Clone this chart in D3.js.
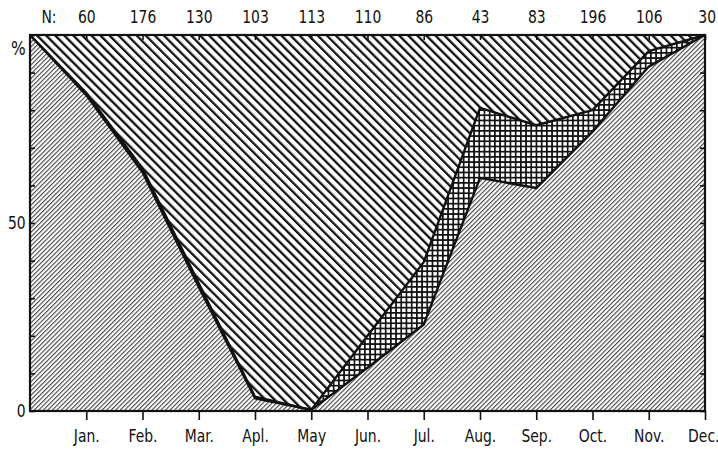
<!DOCTYPE html>
<html>
<head>
<meta charset="utf-8">
<script src="https://cdn.jsdelivr.net/npm/d3@7"></script>
<style>
  body { margin: 0; background: #fff; }
  text { font-family: 'DejaVu Sans Condensed', 'Liberation Sans Narrow', sans-serif; font-stretch: condensed; fill: #111; }
</style>
</head>
<body>
<svg id="chart" width="718" height="450"></svg>
<script>
(function() {

  'use strict';

  // month index 0 = start of Jan (end of previous Dec), 12 = Dec.
  var months = ['Jan.', 'Feb.', 'Mar.', 'Apl.', 'May', 'Jun.', 'Jul.', 'Aug.', 'Sep.', 'Oct.', 'Nov.', 'Dec.'];
  var nCounts = [60, 176, 130, 103, 113, 110, 86, 43, 83, 196, 106, 30];
  var upper = [100, 84.6, 64.5, 34, 3.8, 0.3, 20, 39.6, 80.6, 76, 80, 95.7, 100];
  var lower = [100, 84, 63.5, 33, 3.4, 0.3, 11.5, 23, 62, 59.3, 74.3, 91.6, 100];
  var yTicks = [0, 10, 20, 30, 40, 50, 60, 70, 80, 90, 100];

  var ink = '#111';
  var squeeze = 'scale(0.86,1)';
  var svg = d3.select('#chart');

  var x = d3.scaleLinear().domain([0, 12]).range([30, 705]);
  var y = d3.scaleLinear().domain([0, 100]).range([411, 35]);

  function defineDefs(svg) {
    var defs = svg.append('defs');
    var pats = [
      {id: 'coarse', w: 6.4, h: 10, rot: -45, lines: [{x: 0, y: 0, w: 2.3, h: 10}], color: ink},
      {id: 'fine', w: 3.2, h: 10, rot: 45, lines: [{x: 0, y: 0, w: 1.1, h: 10}], color: '#444'},
      {id: 'grid', w: 5.2, h: 5.2, rot: 0, lines: [{x: 0, y: 0, w: 1.7, h: 5.2}, {x: 0, y: 0, w: 5.2, h: 1.7}], color: ink}
    ];
    pats.forEach(function(p) {
      var pat = defs.append('pattern')
        .attr('id', p.id)
        .attr('patternUnits', 'userSpaceOnUse')
        .attr('width', p.w)
        .attr('height', p.h)
        .attr('patternTransform', 'rotate(' + p.rot + ')');
      pat.append('rect').attr('width', p.w).attr('height', p.h).attr('fill', '#fff');
      p.lines.forEach(function(l) {
        pat.append('rect').attr('x', l.x).attr('y', l.y).attr('width', l.w).attr('height', l.h).attr('fill', p.color);
      });
    });
  }

  defineDefs(svg);

  var idx = d3.range(upper.length);

  // top region: above upper line
  svg.append('path')
    .attr('d', d3.area().x(function(i) { return x(i); }).y0(y(100)).y1(function(i) { return y(upper[i]); })(idx))
    .attr('fill', 'url(#coarse)');

  // middle region: between the two lines
  svg.append('path')
    .attr('d', d3.area().x(function(i) { return x(i); }).y0(function(i) { return y(lower[i]); }).y1(function(i) { return y(upper[i]); })(idx))
    .attr('fill', 'url(#grid)');

  // bottom region
  svg.append('path')
    .attr('d', d3.area().x(function(i) { return x(i); }).y0(y(0)).y1(function(i) { return y(lower[i]); })(idx))
    .attr('fill', 'url(#fine)');

  [upper, lower].forEach(function(s) {
    svg.append('path')
      .attr('d', d3.line().x(function(i) { return x(i); }).y(function(i) { return y(s[i]); })(idx))
      .attr('fill', 'none')
      .attr('stroke', ink)
      .attr('stroke-width', 2.4)
      .attr('stroke-linejoin', 'round');
  });

  // frame
  svg.append('rect')
    .attr('x', x(0)).attr('y', y(100))
    .attr('width', x(12) - x(0)).attr('height', y(0) - y(100))
    .attr('fill', 'none').attr('stroke', ink).attr('stroke-width', 2.2);

  var monthIdx = d3.range(1, 13);

  var bottom = svg.append('g').attr('transform', 'translate(0,' + y(0) + ')')
    .call(d3.axisBottom(x).tickValues(monthIdx).tickSize(9).tickPadding(9)
      .tickFormat(function(d) { return months[d - 1]; }));

  var top = svg.append('g').attr('transform', 'translate(0,' + y(100) + ')')
    .call(d3.axisTop(x).tickValues(monthIdx).tickSize(-5).tickPadding(12)
      .tickFormat(function(d) { return nCounts[d - 1]; }));

  var left = svg.append('g').attr('transform', 'translate(' + x(0) + ',0)')
    .call(d3.axisLeft(y).tickValues(yTicks).tickSize(-5).tickPadding(5)
      .tickFormat(function(d) { return d === 0 ? '0' : d === 50 ? '50' : d === 100 ? '%' : ''; }));

  var right = svg.append('g').attr('transform', 'translate(' + x(12) + ',0)')
    .call(d3.axisRight(y).tickValues(yTicks).tickSize(-5).tickFormat(''));

  [bottom, top, left, right].forEach(function(g) {
    g.select('.domain').remove();
    g.selectAll('line').attr('stroke', ink).attr('stroke-width', 1.6);
    g.selectAll('text').attr('font-size', 18).attr('fill', ink)
      .attr('font-family', "'DejaVu Sans Condensed', 'Liberation Sans Narrow', sans-serif")
      .attr('transform', squeeze);
  });

  left.selectAll('.tick').filter(function(d) { return d === 100; })
    .select('text').attr('dy', '1.0em').attr('font-size', 20);

  bottom.selectAll('.tick').filter(function(d) { return d === 12; })
    .select('text').attr('dx', -2);

  top.selectAll('.tick').filter(function(d) { return d === 12; })
    .select('text').attr('dx', 2);

  svg.append('g').attr('transform', 'translate(49,' + (y(100) - 12) + ')')
    .append('text')
    .attr('text-anchor', 'middle')
    .attr('font-size', 18)
    .attr('transform', squeeze)
    .text('N:');

})();
</script>
</body>
</html>
